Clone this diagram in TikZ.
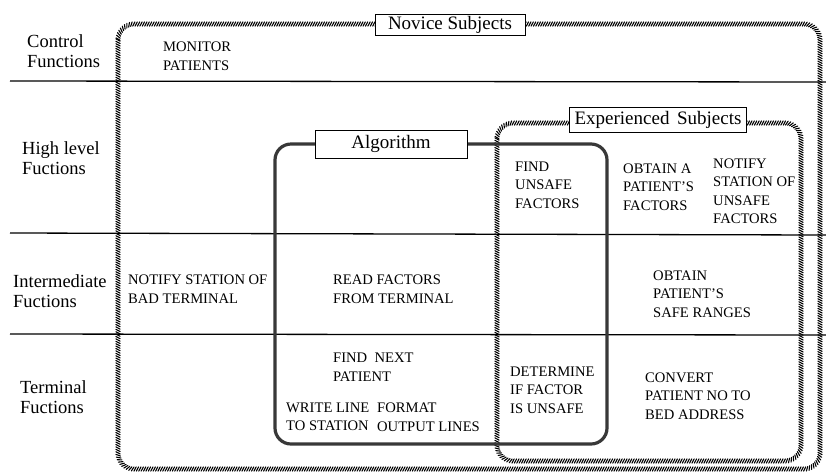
\documentclass[tikz,border=0pt]{standalone}
\usepackage{fontspec}
\setmainfont{Liberation Serif}
\usetikzlibrary{decorations.markings}

\tikzset{
  % rope-like border made of short slanted strokes
  hatchline/.style={
    postaction={decorate},
    decoration={markings,
      mark=between positions 0 and 1 step #1 with
        {\draw[line width=1.1pt,line cap=round,black] (-1.1pt,-2.1pt) -- (1.1pt,2.1pt);}}},
  hatchline/.default=2.4pt,
  algoline/.style={draw=black!78,line width=3.2pt,rounded corners=16pt},
  rowline/.style={draw=black,line width=1.3pt},
  tag/.style={draw=black,fill=white,line width=1pt,inner sep=0pt,
    font=\fontsize{19}{21}\selectfont},
  rowlabel/.style={anchor=west,align=left,inner sep=0pt,
    font=\fontsize{18.5}{20}\selectfont},
  task/.style={anchor=west,align=left,inner sep=0pt,
    font=\fontsize{14.6}{18.5}\selectfont},
}

\begin{document}
\begin{tikzpicture}[x=1pt,y=-1pt]
\useasboundingbox (0,0) rectangle (826,475);

% level separators
\draw[rowline] (10,81) -- (826,82);
\draw[rowline] (10,233) -- (826,235);
\draw[rowline] (10,334) -- (826,335);

% groups
\path[hatchline,rounded corners=16pt] (118,24) rectangle (820,469);
\path[hatchline,rounded corners=16pt] (497,123) rectangle (801,461);
\draw[algoline] (275,144) rectangle (607,444);

% group titles
\node[tag,minimum width=150pt,minimum height=21pt] (novice) at (450,25) {Novice Subjects};
\node[tag,minimum width=152pt,minimum height=28pt] (algo) at (391,144) {Algorithm};
\node[tag,minimum width=177pt,minimum height=25pt] (expert) at (658,120) {Experienced\hspace{0.4em}Subjects};

% level names
\node[rowlabel] (lvctrl) at (27,51) {Control\\Functions};
\node[rowlabel] (lvhigh) at (22,158) {High level\\Fuctions};
\node[rowlabel] (lvmid) at (13,291) {Intermediate\\Fuctions};
\node[rowlabel] (lvterm) at (20,397) {Terminal\\Fuctions};

% functions
\node[task] (monitor) at (163,56) {MONITOR\\PATIENTS};
\node[task] (findunsafe) at (515,185) {FIND\\UNSAFE\\FACTORS};
\node[task] (obtainfac) at (623,187) {OBTAIN A\\PATIENT'S\\FACTORS};
\node[task] (notifyunsafe) at (713,191) {NOTIFY\\STATION OF\\UNSAFE\\FACTORS};
\node[task] (notifybad) at (128,289) {NOTIFY STATION OF\\BAD TERMINAL};
\node[task] (readfac) at (333,289) {READ FACTORS\\FROM TERMINAL};
\node[task] (obtainsafe) at (653,294) {OBTAIN\\PATIENT'S\\SAFE RANGES};
\node[task] (findnext) at (333,367) {FIND\enspace NEXT\\PATIENT};
\node[task] (writeline) at (286,417) {WRITE LINE\\TO STATION};
\node[task] (format) at (377,417) {FORMAT\\OUTPUT LINES};
\node[task] (determine) at (510,390) {DETERMINE\\IF FACTOR\\IS UNSAFE};
\node[task] (convert) at (645,396) {CONVERT\\PATIENT NO TO\\BED ADDRESS};
\end{tikzpicture}
\end{document}
